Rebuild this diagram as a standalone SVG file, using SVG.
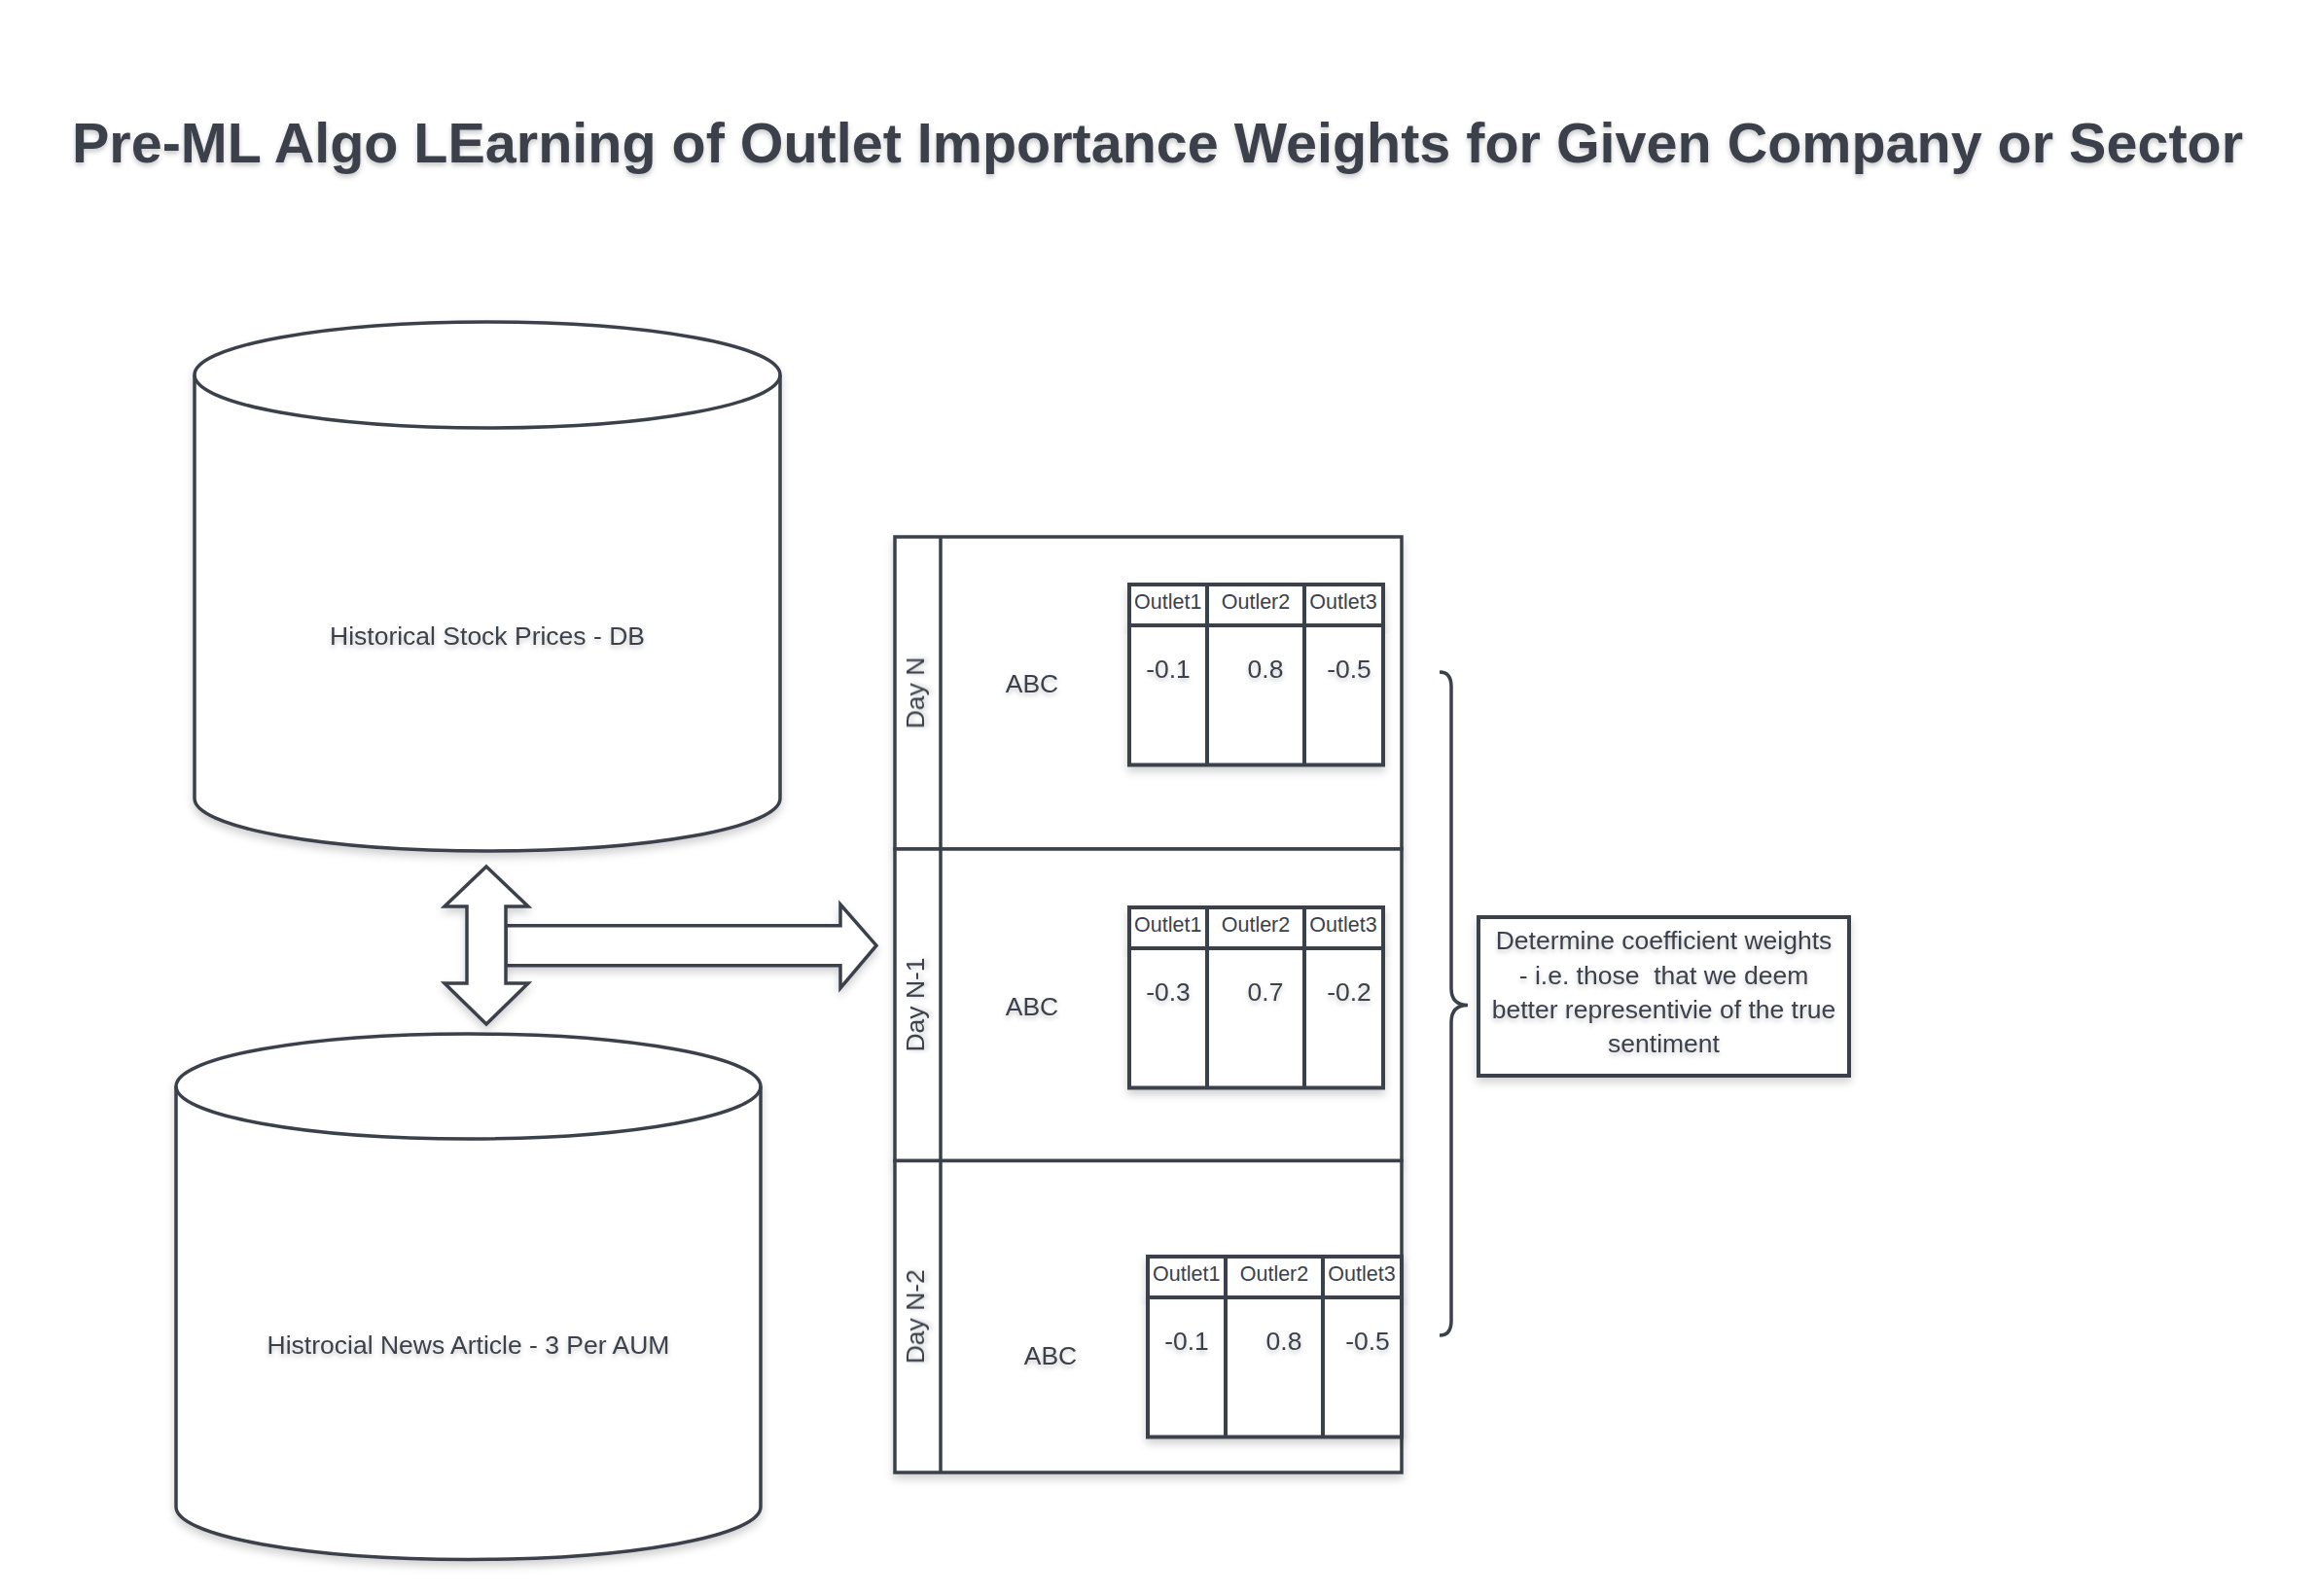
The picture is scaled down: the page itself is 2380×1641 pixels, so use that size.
<svg xmlns="http://www.w3.org/2000/svg" width="2380" height="1641" viewBox="0 0 2380 1641">
<style>
.ln{fill:#ffffff;stroke:#3a414b;stroke-width:3.5;stroke-linejoin:miter}
.thin{fill:none;stroke:#3a414b;stroke-width:3.5}
.tb{fill:#ffffff;stroke:#3a414b;stroke-width:4}
.tbl{fill:none;stroke:#3a414b;stroke-width:4}
.t{font-family:"Liberation Sans",Arial,sans-serif;font-size:26.5px;fill:#3a414b;text-anchor:middle}
.h{font-family:"Liberation Sans",Arial,sans-serif;font-size:21.5px;fill:#3a414b;text-anchor:middle}
.title{font-family:"Liberation Sans",Arial,sans-serif;font-size:57.5px;font-weight:bold;fill:#3a414b;text-anchor:middle}
</style>
<defs>
<filter id="sh" x="-10%" y="-10%" width="120%" height="130%">
<feDropShadow dx="0" dy="5" stdDeviation="4" flood-color="#000000" flood-opacity="0.18"/>
</filter>
<filter id="tsh" x="-10%" y="-30%" width="120%" height="180%">
<feDropShadow dx="0" dy="3" stdDeviation="2.5" flood-color="#000000" flood-opacity="0.22"/>
</filter>
</defs>
<rect width="2380" height="1641" fill="#ffffff"/>

<g id="title">
<text class="title" x="1190" y="167" filter="url(#tsh)">Pre-ML Algo LEarning of Outlet Importance Weights for Given Company or Sector</text>
</g>

<g id="db-stock-prices">
<path class="ln" filter="url(#sh)" d="M200,385.5 A301,54.5 0 0 1 802,385.5 L802,821 A301,54 0 0 1 200,821 Z"/>
<path class="thin" d="M200,385.5 A301,54.5 0 0 0 802,385.5"/>
<text class="t" x="501" y="663" filter="url(#tsh)">Historical Stock Prices - DB</text>
</g>

<g id="db-news-articles">
<path class="ln" filter="url(#sh)" d="M181,1117 A300.5,54 0 0 1 782,1117 L782,1549.5 A300.5,54 0 0 1 181,1549.5 Z"/>
<path class="thin" d="M181,1117 A300.5,54 0 0 0 782,1117"/>
<text class="t" x="481.5" y="1392" filter="url(#tsh)">Histrocial News Article - 3 Per AUM</text>
</g>

<g id="connectors">
<polygon class="ln" filter="url(#sh)" points="520,951.7 864,951.7 864,930 901,972.2 864,1016 864,992.7 520,992.7"/>
<polygon class="ln" filter="url(#sh)" points="500,891 543,932 520,932 520,1011 543,1011 500,1053 457,1011 480,1011 480,932 457,932"/>
<path class="thin" d="M1480,691 Q1492,691 1492,706 L1492,1016 Q1492,1033.5 1509,1033.5 Q1492,1033.5 1492,1051 L1492,1358 Q1492,1373 1480,1373"/>
</g>

<g id="day-n">
<rect class="ln" filter="url(#sh)" x="920" y="552" width="521" height="321"/>
<line class="thin" x1="967" y1="552" x2="967" y2="873"/>
<text class="t" transform="translate(950,712.5) rotate(-90)" filter="url(#tsh)">Day N</text>
<text class="t" x="1061" y="712" filter="url(#tsh)">ABC</text>
<g id="day-n-table">
<rect class="tb" filter="url(#sh)" x="1161" y="601" width="261" height="42"/>
<rect class="tb" filter="url(#sh)" x="1161" y="643" width="261" height="143.5"/>
<line class="tbl" x1="1241" y1="601" x2="1241" y2="786.5"/>
<line class="tbl" x1="1341" y1="601" x2="1341" y2="786.5"/>
<text class="h" x="1200.7" y="625.7">Outlet1</text>
<text class="h" x="1291" y="625.7">Outler2</text>
<text class="h" x="1381" y="625.7">Outlet3</text>
<text class="t" x="1201" y="696.5" filter="url(#tsh)">-0.1</text>
<text class="t" x="1301" y="696.5" filter="url(#tsh)">0.8</text>
<text class="t" x="1387" y="696.5" filter="url(#tsh)">-0.5</text>
</g>
</g>

<g id="day-n-1">
<rect class="ln" filter="url(#sh)" x="920" y="873" width="521" height="320.5"/>
<line class="thin" x1="967" y1="873" x2="967" y2="1193.5"/>
<text class="t" transform="translate(950,1033) rotate(-90)" filter="url(#tsh)">Day N-1</text>
<text class="t" x="1061" y="1044" filter="url(#tsh)">ABC</text>
<g id="day-n-1-table">
<rect class="tb" filter="url(#sh)" x="1161" y="933" width="261" height="42"/>
<rect class="tb" filter="url(#sh)" x="1161" y="975" width="261" height="143.5"/>
<line class="tbl" x1="1241" y1="933" x2="1241" y2="1118.5"/>
<line class="tbl" x1="1341" y1="933" x2="1341" y2="1118.5"/>
<text class="h" x="1200.7" y="957.7">Outlet1</text>
<text class="h" x="1291" y="957.7">Outler2</text>
<text class="h" x="1381" y="957.7">Outlet3</text>
<text class="t" x="1201" y="1028.5" filter="url(#tsh)">-0.3</text>
<text class="t" x="1301" y="1028.5" filter="url(#tsh)">0.7</text>
<text class="t" x="1387" y="1028.5" filter="url(#tsh)">-0.2</text>
</g>
</g>

<g id="day-n-2">
<rect class="ln" filter="url(#sh)" x="920" y="1193.5" width="521" height="320.5"/>
<line class="thin" x1="967" y1="1193.5" x2="967" y2="1514"/>
<text class="t" transform="translate(950,1353.7) rotate(-90)" filter="url(#tsh)">Day N-2</text>
<text class="t" x="1080" y="1403" filter="url(#tsh)">ABC</text>
<g id="day-n-2-table">
<rect class="tb" filter="url(#sh)" x="1180" y="1292" width="261" height="42"/>
<rect class="tb" filter="url(#sh)" x="1180" y="1334" width="261" height="143.5"/>
<line class="tbl" x1="1260" y1="1292" x2="1260" y2="1477.5"/>
<line class="tbl" x1="1360" y1="1292" x2="1360" y2="1477.5"/>
<text class="h" x="1219.7" y="1316.7">Outlet1</text>
<text class="h" x="1310" y="1316.7">Outler2</text>
<text class="h" x="1400" y="1316.7">Outlet3</text>
<text class="t" x="1220" y="1387.5" filter="url(#tsh)">-0.1</text>
<text class="t" x="1320" y="1387.5" filter="url(#tsh)">0.8</text>
<text class="t" x="1406" y="1387.5" filter="url(#tsh)">-0.5</text>
</g>
</g>

<g id="note-box">
<rect class="tb" filter="url(#sh)" x="1520" y="943" width="381" height="163"/>
<text class="t" x="1710.5" y="976" filter="url(#tsh)">Determine coefficient weights</text>
<text class="t" x="1710.5" y="1011.5" filter="url(#tsh)" xml:space="preserve">- i.e. those  that we deem</text>
<text class="t" x="1710.5" y="1047" filter="url(#tsh)">better representivie of the true</text>
<text class="t" x="1710.5" y="1082" filter="url(#tsh)">sentiment</text>
</g>
</svg>
